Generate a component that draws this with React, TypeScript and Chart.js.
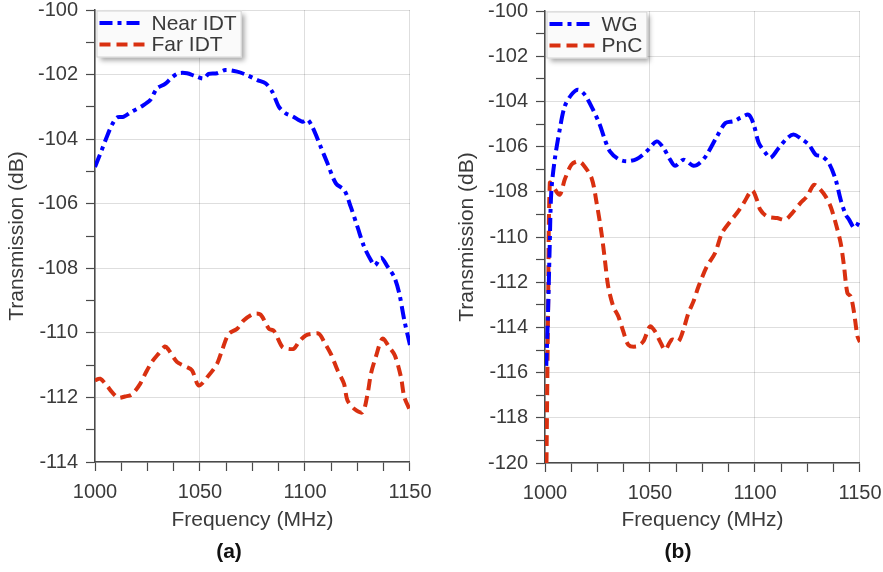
import React, { useEffect, useRef } from "react";
import { Chart, registerables } from "chart.js";

Chart.register(...registerables);

// ---------- data ----------
const nearFreq = [1000, 1003.2, 1005.6, 1008, 1010.4, 1013.5, 1017.5, 1022.3, 1026.3, 1029.5, 1033.4, 1036.6, 1039.8, 1043.8, 1047.8, 1051.8, 1054.1, 1058.1, 1062.1, 1067.7, 1072.5, 1077.3, 1081.2, 1084.4, 1087.6, 1090.8, 1094, 1098.8, 1101.1, 1103.5, 1107.5, 1110.7, 1114.7, 1118.7, 1121.8, 1125, 1128.2, 1131.4, 1133.3, 1136.2, 1139.4, 1142.5, 1144.9, 1147.3, 1150];
const nearVal = [-104.86, -104.34, -103.93, -103.57, -103.33, -103.31, -103.15, -102.98, -102.79, -102.43, -102.29, -102.09, -101.96, -101.96, -102.05, -102.12, -101.98, -101.96, -101.86, -101.91, -102.02, -102.17, -102.27, -102.53, -103.0, -103.2, -103.29, -103.46, -103.39, -103.62, -104.24, -104.75, -105.37, -105.58, -106.1, -106.72, -107.34, -107.75, -107.91, -107.67, -107.96, -108.27, -108.78, -109.61, -110.38];

const farFreq = [1000, 1002.4, 1005.6, 1008, 1011.1, 1014.3, 1017.5, 1021.5, 1023.9, 1027.1, 1030.2, 1033.4, 1035, 1039, 1043, 1046.2, 1049.4, 1054.1, 1058.1, 1060.5, 1063.7, 1067.7, 1070.9, 1075.6, 1078.8, 1082.8, 1085.2, 1089.2, 1091.6, 1094.7, 1097.1, 1100.3, 1103.5, 1106.7, 1109.1, 1112.3, 1115.5, 1118.6, 1120.2, 1123.4, 1127.4, 1129.8, 1131.4, 1133.7, 1136.9, 1140.1, 1142.8, 1145.7, 1147.3, 1150];
const farVal = [-111.47, -111.42, -111.63, -111.83, -112.01, -111.97, -111.91, -111.58, -111.27, -110.9, -110.65, -110.42, -110.52, -110.9, -111.04, -111.16, -111.63, -111.32, -110.96, -110.54, -110.03, -109.87, -109.61, -109.41, -109.43, -109.87, -109.94, -110.44, -110.49, -110.49, -110.28, -110.08, -110.03, -110.03, -110.28, -110.65, -111.16, -111.58, -112.09, -112.35, -112.46, -111.89, -111.27, -110.75, -110.18, -110.44, -110.7, -111.37, -111.99, -112.4];

const wgFreq = [1000.6, 1001.4, 1002.2, 1003, 1004.6, 1007, 1009.4, 1012.6, 1015.7, 1018.9, 1022.9, 1026.1, 1028.5, 1030.9, 1034.9, 1038.9, 1043.7, 1048.4, 1053.2, 1056.4, 1059.6, 1062, 1066, 1070.7, 1074, 1077.1, 1081.9, 1085.9, 1089.8, 1093, 1097, 1099.4, 1101.8, 1105, 1107.4, 1111.3, 1115.4, 1118.5, 1122.5, 1125.7, 1128.9, 1132, 1135.2, 1138.4, 1140.8, 1143.2, 1144.8, 1147.2, 1148.5, 1150];
const wgVal = [-115.7, -113.5, -110.56, -108.0, -106.6, -105.25, -104.22, -103.7, -103.48, -103.7, -104.37, -105.03, -105.69, -106.21, -106.55, -106.65, -106.55, -106.21, -105.77, -106.06, -106.58, -106.85, -106.58, -106.85, -106.7, -106.35, -105.55, -104.96, -104.88, -104.73, -104.59, -105.03, -105.84, -106.28, -106.5, -106.06, -105.62, -105.47, -105.69, -105.92, -106.36, -106.43, -106.73, -107.46, -108.35, -109.01, -109.23, -109.6, -109.5, -109.2];

const pncFreq = [1000.7, 1001.5, 1002.3, 1003.8, 1007, 1009.4, 1012.6, 1015.8, 1018.2, 1022.2, 1024.6, 1026.9, 1028.5, 1030.1, 1032.5, 1034.9, 1037.3, 1039.7, 1043.7, 1046.8, 1050, 1052.4, 1054.8, 1057.2, 1060.4, 1063.5, 1065.9, 1068.3, 1070.7, 1073.1, 1077.1, 1081, 1084.3, 1088.2, 1091.4, 1094.6, 1098.6, 1100.9, 1102.5, 1105.7, 1110.5, 1114.5, 1117.7, 1121.6, 1124.8, 1128, 1130.4, 1133.6, 1136, 1138.4, 1140.8, 1142.4, 1144, 1145.6, 1147.2, 1148.8, 1150];
const pncVal = [-120, -113, -107.6, -107.76, -108.13, -107.46, -106.8, -106.65, -106.8, -107.4, -108.5, -109.82, -111.0, -112.19, -113.07, -113.51, -114.18, -114.77, -114.84, -114.62, -113.96, -114.18, -114.62, -114.99, -114.54, -114.62, -114.1, -113.36, -112.85, -112.19, -111.3, -110.71, -109.82, -109.31, -108.94, -108.5, -107.94, -108.35, -108.79, -109.09, -109.16, -109.23, -108.94, -108.5, -108.2, -107.69, -107.83, -108.2, -108.65, -109.38, -110.27, -111.3, -112.48, -112.63, -113.36, -114.4, -114.65];

const xTickLabels = [1000, 1050, 1100, 1150];
const xLabel = "Frequency (MHz)";
const yLabel = "Transmission (dB)";

// ---------- style ----------
const FONT = "'Liberation Sans', Arial, Helvetica, sans-serif";
const TEXT = "#3a3a3a";
const AXIS = "#4a4a4a";
const GRID = "rgba(0,0,0,0.13)";
const BLUE = "#0000ff";
const RED = "rgb(217,48,16)";
const DASHDOT = [13, 5, 4, 5];
const DASH = [11, 6];
const CANVAS_W = 443;

const insetLegend = {
  id: "insetLegend",
  afterDatasetsDraw(chart: any) {
    const ctx = chart.ctx;
    const a = chart.chartArea;
    const ds = chart.data.datasets;
    ctx.save();
    ctx.font = `21px ${FONT}`;
    const textW = Math.max(...ds.map((d: any) => ctx.measureText(d.label).width));
    const x = a.left + 1.5;
    const y = a.top + 0.5;
    const w = 55 + textW + 5;
    const h = 47;
    ctx.shadowColor = "rgba(0,0,0,0.35)";
    ctx.shadowBlur = 5;
    ctx.shadowOffsetX = 3;
    ctx.shadowOffsetY = 3;
    ctx.fillStyle = "#fafafa";
    ctx.fillRect(x, y, w, h);
    ctx.shadowColor = "transparent";
    ctx.strokeStyle = "#d4d4d4";
    ctx.lineWidth = 1;
    ctx.strokeRect(x + 0.5, y + 0.5, w - 1, h - 1);
    ds.forEach((d: any, i: number) => {
      const cy = y + 12.5 + i * 21.5;
      ctx.beginPath();
      ctx.setLineDash(d.borderDash);
      ctx.strokeStyle = d.borderColor;
      ctx.lineWidth = d.borderWidth;
      ctx.moveTo(x + 3, cy);
      ctx.lineTo(x + 48, cy);
      ctx.stroke();
      ctx.setLineDash([]);
      ctx.fillStyle = TEXT;
      ctx.textBaseline = "middle";
      ctx.textAlign = "left";
      ctx.fillText(d.label, x + 55, cy + 1);
    });
    ctx.restore();
  },
};

function series(label: string, fr: number[], vals: number[], color: string, dash: number[]) {
  return {
    label,
    data: fr.map((f, i) => ({ x: f, y: vals[i] })),
    borderColor: color,
    backgroundColor: color,
    borderWidth: 4,
    borderDash: dash,
    pointRadius: 0,
    tension: 0.3,
    fill: false,
  };
}

function makeConfig(datasets: any[], yMin: number, yMax: number, padTop: number, xHeight: number) {
  return {
    type: "line",
    data: { datasets },
    plugins: [insetLegend],
    options: {
      animation: false,
      responsive: false,
      layout: { padding: { top: padTop, right: 0, left: 0, bottom: 0 } },
      plugins: { legend: { display: false }, tooltip: { enabled: false } },
      scales: {
        x: {
          type: "linear",
          min: 1000,
          max: 1150,
          ticks: {
            stepSize: 12.5,
            autoSkip: false,
            maxRotation: 0,
            padding: 11.5,
            color: TEXT,
            font: { size: 20, family: FONT, lineHeight: 1 },
            callback: (v: number) => (xTickLabels.includes(v) ? String(v) : ""),
          },
          grid: {
            color: (c: any) => (c.tick && xTickLabels.includes(c.tick.value) ? GRID : "transparent"),
            tickColor: AXIS,
            tickLength: 9,
            lineWidth: 1,
            tickWidth: 1.2,
          },
          border: { color: AXIS, width: 1.5 },
          title: {
            display: true,
            text: xLabel,
            color: TEXT,
            font: { size: 21, family: FONT, lineHeight: 1.2 },
            padding: { top: 0, bottom: 39.4 },
          },
          afterFit: (s: any) => {
            s.height = xHeight;
          },
        },
        y: {
          min: yMin,
          max: yMax,
          ticks: {
            stepSize: 1,
            autoSkip: false,
            padding: 8,
            color: TEXT,
            font: { size: 20, family: FONT, lineHeight: 0.1 },
            callback: (v: number) => (v % 2 === 0 ? String(v) : ""),
          },
          grid: {
            color: (c: any) => (c.tick && c.tick.value % 2 === 0 ? GRID : "transparent"),
            tickColor: AXIS,
            tickLength: 9,
            lineWidth: 1,
            tickWidth: 1.2,
          },
          border: { color: AXIS, width: 1.5 },
          title: {
            display: true,
            text: yLabel,
            color: TEXT,
            font: { size: 21, family: FONT, lineHeight: 1.2 },
            padding: { top: 4.4, bottom: 0 },
          },
          afterFit: (s: any) => {
            s.width = 95;
          },
        },
      },
    },
  };
}

function Panel(props: { config: any; left: number; tag: string; tagX: number }) {
  const ref = useRef<HTMLCanvasElement | null>(null);
  useEffect(() => {
    const chart = new Chart(ref.current as HTMLCanvasElement, props.config);
    return () => chart.destroy();
  }, []);
  return (
    <>
      <div style={{ position: "absolute", left: props.left, top: 0, width: CANVAS_W, height: 572 }}>
        <canvas ref={ref} width={CANVAS_W} height={572} style={{ display: "block" }} />
      </div>
      <div
        style={{
          position: "absolute",
          left: props.tagX,
          top: 551,
          transform: "translate(-50%, -50%)",
          font: `bold 21px ${FONT}`,
          color: "#111",
          whiteSpace: "nowrap",
        }}
      >
        {props.tag}
      </div>
    </>
  );
}

export default function App() {
  const leftCfg = makeConfig(
    [series("Near IDT", nearFreq, nearVal, BLUE, DASHDOT), series("Far IDT", farFreq, farVal, RED, DASH)],
    -114,
    -100,
    10,
    110
  );
  const rightCfg = makeConfig(
    [series("WG", wgFreq, wgVal, BLUE, DASHDOT), series("PnC", pncFreq, pncVal, RED, DASH)],
    -120,
    -100,
    11,
    109
  );
  return (
    <div style={{ position: "absolute", left: 0, top: 0, width: 883, height: 572, background: "#fff", overflow: "hidden" }}>
      <Panel config={leftCfg} left={0} tag="(a)" tagX={229} />
      <Panel config={rightCfg} left={450} tag="(b)" tagX={678} />
    </div>
  );
}
